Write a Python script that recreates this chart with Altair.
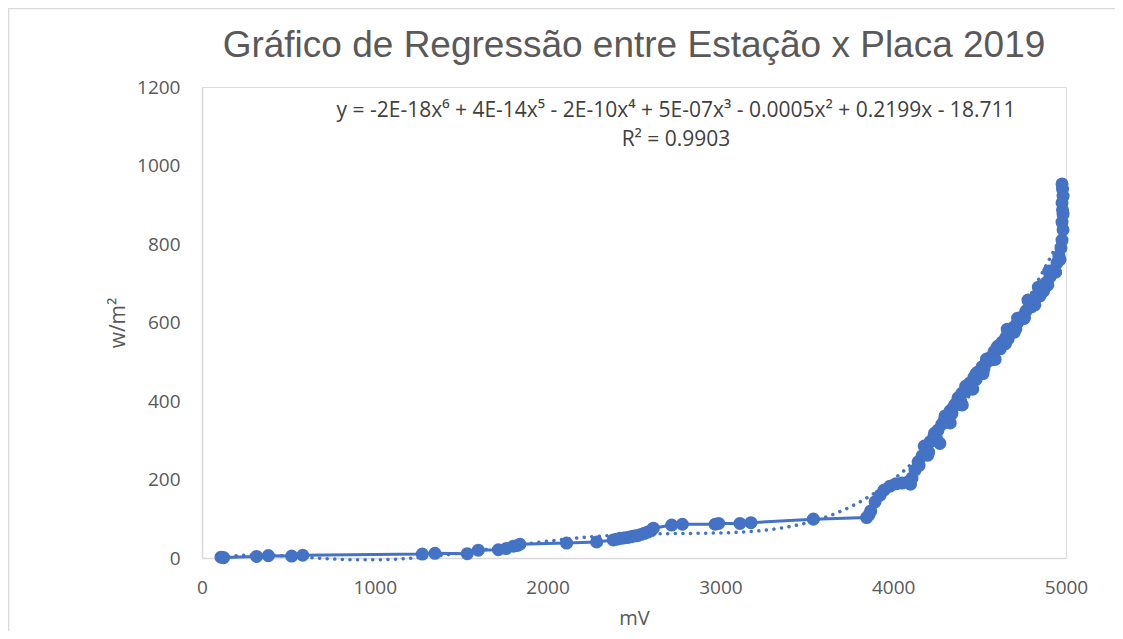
import altair as alt
import pandas as pd

# Readings (mV, w/m²)
mv = [110, 125, 316, 384, 519, 583, 1275, 1348, 1535, 1599, 1715, 1760, 1802, 1825, 1840,
      2110, 2284, 2380, 2400, 2420, 2440, 2460, 2480, 2500, 2520, 2540, 2560, 2580, 2600, 2612,
      2718, 2780, 2969, 2990, 3113, 3177, 3538, 3846, 3860, 3870,
      3895, 3924, 3947, 3981, 4016, 4051, 4086, 4100, 4109, 4126, 4144, 4150, 4167, 4190, 4205,
      4213, 4236, 4250, 4259, 4282, 4295, 4306, 4329, 4340, 4352, 4375, 4390, 4398, 4421, 4430,
      4444, 4468, 4480, 4491, 4514, 4525, 4537, 4560, 4570, 4583, 4606, 4620, 4630, 4653, 4665,
      4676, 4699, 4710, 4722, 4745, 4755, 4768, 4792, 4800, 4815, 4838, 4850, 4861, 4884, 4895,
      4907, 4931, 4940, 4948, 4959, 4965, 4971, 4977, 4983, 4977, 4983, 4980, 4977, 4983, 4980, 4977,
      4180, 4240, 4300, 4360, 4420, 4480, 4540, 4600, 4660, 4720, 4780, 4840, 4900,
      4200, 4270, 4330, 4400, 4460, 4520, 4590, 4650, 4700, 4760, 4820, 4870]
wm2 = [2, 1, 4, 6, 5, 7, 10, 12, 11, 20, 21, 24, 30, 32, 35,
       38, 41, 46, 48, 50, 51, 52, 54, 56, 57, 60, 63, 66, 70, 76,
       84, 86, 86, 88, 88, 90, 99, 103, 110, 120,
       143, 160, 173, 183, 189, 191, 194, 188, 204, 224, 245, 236, 260, 278, 270,
       296, 311, 305, 326, 341, 350, 359, 375, 368, 387, 408, 400, 420, 433, 428,
       446, 461, 455, 474, 487, 482, 497, 510, 505, 525, 540, 533, 550, 563, 558,
       576, 589, 584, 601, 614, 610, 629, 645, 640, 657, 673, 668, 685, 701, 696,
       716, 734, 728, 752, 769, 760, 790, 810, 836, 856, 876, 887, 905, 922, 940, 953,
       285, 318, 362, 392, 438, 470, 507, 536, 583, 611, 657, 690, 731,
       262, 292, 344, 390, 430, 470, 506, 546, 575, 612, 645, 680]

df = pd.DataFrame({"mV": mv, "w": wm2})

title_text = ["Gráfico de Regressão entre Estação x Placa 2019"]
eq_text = ["y = -2E-18x⁶ + 4E-14x⁵ - 2E-10x⁴ + 5E-07x³ - 0.0005x² + 0.2199x - 18.711"]
r2_text = ["R² = 0.9903"]

BLUE = "#4472C4"
GREY = "#595959"
FONT = "Open Sans"

x_enc = alt.X("mV:Q", scale=alt.Scale(domain=[0, 5000], nice=False),
              axis=alt.Axis(values=[0, 1000, 2000, 3000, 4000, 5000], title="mV", format="d",
                            grid=False, ticks=False, domainColor="#d9d9d9", domainWidth=1.5,
                            labelFlush=False,
                            labelFont=FONT, labelFontSize=19, labelColor=GREY, labelPadding=20,
                            titleFont=FONT, titleFontSize=20, titleColor=GREY,
                            titleFontWeight="normal", titlePadding=11))
y_enc = alt.Y("w:Q", scale=alt.Scale(domain=[0, 1200], nice=False),
              axis=alt.Axis(values=[0, 200, 400, 600, 800, 1000, 1200], title="w/m²", format="d",
                            grid=False, ticks=False, domainColor="#d9d9d9", domainWidth=1.5,
                            labelFlush=False,
                            labelFont=FONT, labelFontSize=19, labelColor=GREY, labelPadding=22,
                            titleFont=FONT, titleFontSize=21, titleColor=GREY,
                            titleFontWeight="normal", titlePadding=8))

base = alt.Chart(df)
line = base.mark_line(color=BLUE, strokeWidth=3).encode(x=x_enc, y=y_enc)
pts = base.mark_circle(color=BLUE, size=170, opacity=1).encode(x="mV:Q", y="w:Q")

trend = base.transform_calculate(k="datum.mV / 1000").transform_regression(
    "k", "w", method="poly", order=6
).transform_calculate(mV="datum.k * 1000").mark_line(
    color=BLUE, strokeWidth=3.5, strokeDash=[0.1, 7.5], strokeCap="round"
).encode(x="mV:Q", y="w:Q")

title = alt.Chart(pd.DataFrame({"t": title_text})).mark_text(
    font="Liberation Sans", fontSize=37, color=GREY, align="center", baseline="alphabetic"
).encode(x=alt.value(432), y=alt.value(-30), text="t:N")
eq = alt.Chart(pd.DataFrame({"t": eq_text})).mark_text(
    font=FONT, fontSize=21, color="#404040", align="center", baseline="middle"
).encode(x=alt.value(474), y=alt.value(24), text="t:N")
r2 = alt.Chart(pd.DataFrame({"t": r2_text})).mark_text(
    font=FONT, fontSize=21, color="#404040", align="center", baseline="middle"
).encode(x=alt.value(474), y=alt.value(53), text="t:N")

one = pd.DataFrame({"a": [0]})
border_top = alt.Chart(one).mark_rule(color="#d9d9d9", strokeWidth=1.5).encode(
    x=alt.value(-193), x2=alt.value(920), y=alt.value(-78.5))
border_left = alt.Chart(one).mark_rule(color="#d9d9d9", strokeWidth=1.5).encode(
    x=alt.value(-193.5), y=alt.value(-79), y2=alt.value(560))

chart = alt.layer(border_top, border_left, trend, line, pts, title, eq, r2).properties(
    width=864, height=471,
    autosize=alt.AutoSizeParams(type="none"),
    padding={"left": 194, "top": 79, "right": 49, "bottom": 73},
).configure_view(stroke=None).configure(background="white")

chart.save("out.html", embed_options={"renderer": "svg", "actions": False})
